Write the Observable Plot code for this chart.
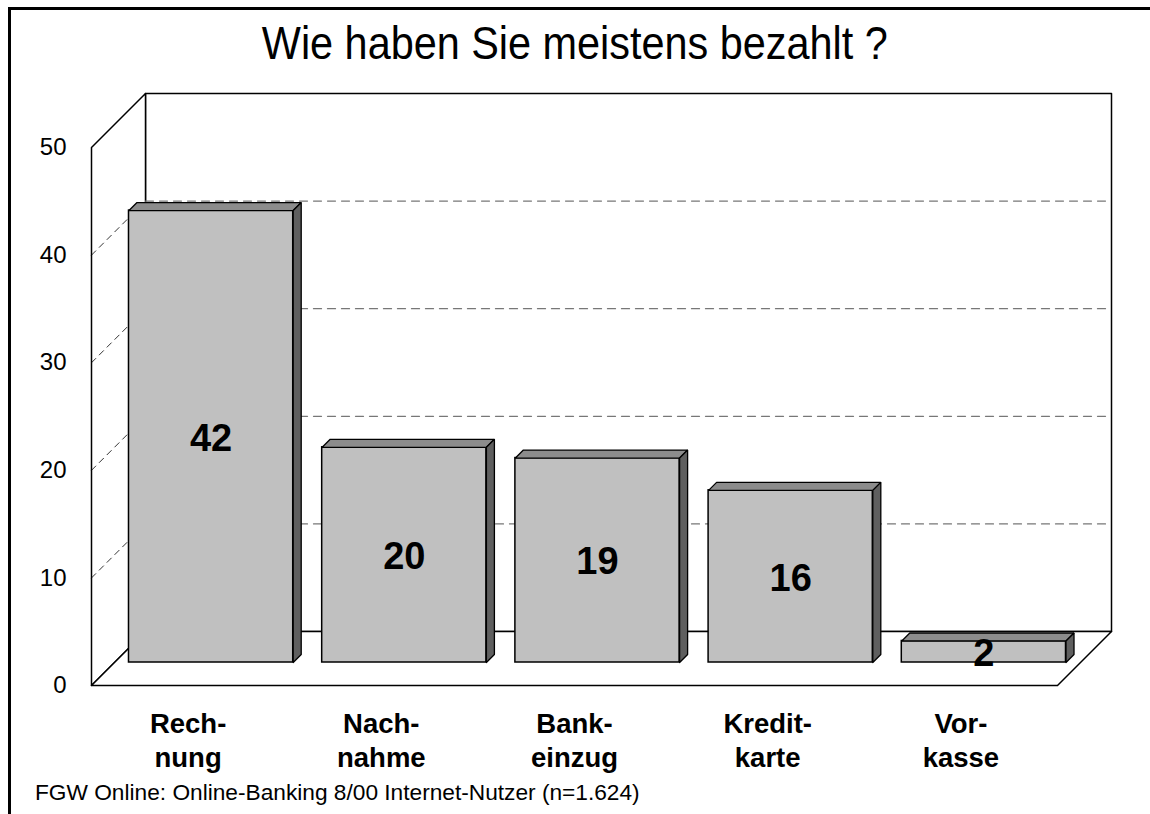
<!DOCTYPE html>
<html>
<head>
<meta charset="utf-8">
<script src="https://cdn.jsdelivr.net/npm/d3@7"></script>
<script src="https://cdn.jsdelivr.net/npm/@observablehq/plot@0.6"></script>
<style>
  html, body { margin: 0; padding: 0; background: #fff; overflow: hidden; width: 1150px; height: 814px; }
  #wrap { position: relative; width: 1150px; height: 814px; overflow: hidden; background: #fff;
          font-family: "Liberation Sans", Arial, Helvetica, sans-serif; }
  #bt { position: absolute; left: 8px; top: 7px; width: 1142px; height: 2.5px; background: #000; }
  #bl { position: absolute; left: 8px; top: 7px; width: 2.5px; height: 807px; background: #000; }
  #chart { position: absolute; left: 0; top: 0; width: 1150px; height: 814px; overflow: hidden; }
  #title { position: absolute; left: 0; top: 20px; width: 1150px; text-align: center;
           font-size: 46px; line-height: 46px; color: #000; transform: scaleX(0.9); transform-origin: 573px 0; }
  #footer { position: absolute; left: 35px; top: 781px; font-size: 22.7px; line-height: 22px; color: #000; white-space: nowrap; }
</style>
</head>
<body>
<div id="wrap">
  <div id="bt"></div>
  <div id="bl"></div>
  <div id="chart"></div>
  <div id="title">Wie haben Sie meistens bezahlt ?</div>
  <div id="footer">FGW Online: Online-Banking 8/00 Internet-Nutzer (n=1.624)</div>
</div>
<script>
// ---- data ----
const categories = ["Rech-\nnung", "Nach-\nnahme", "Bank-\neinzug", "Kredit-\nkarte", "Vor-\nkasse"];
const values = [42, 20, 19, 16, 2];
const yTicks = [0, 10, 20, 30, 40, 50];
const gridValues = [10, 20, 30, 40];

// ---- layout ----
const W = 1150, H = 814;
const mL = 91, mR = 93, mT = 147, mB = 129;
const yMax = 50, n = categories.length;
const UX = (W - mL - mR) / n;      // px per x unit
const UY = (H - mT - mB) / yMax;   // px per y unit
const WALL = 54;                    // wall depth (px, 45° oblique)
const BAR_FRONT = 23, BAR_BACK = 31; // bar depth range (px)
const BAR_PAD = 0.075;

// oblique projection: depth d (px) shifts right and up
const P = (x, y, d, id) => ({x: x + d / UX, y: y + d / UY, id});
const poly = (pts, id) => { const a = pts.map(p => ({...p, id})); a.push({...a[0]}); return a; };

const bars = values.map((v, i) => ({i, v, label: categories[i], x1: i + BAR_PAD, x2: i + 1 - BAR_PAD, xc: i + 0.5}));

const backWall = poly([P(0, 0, WALL), P(n, 0, WALL), P(n, yMax, WALL), P(0, yMax, WALL)], "back");
const leftWall = poly([P(0, 0, 0), P(0, 0, WALL), P(0, yMax, WALL), P(0, yMax, 0)], "left");
const floor = poly([P(0, 0, 0), P(n, 0, 0), P(n, 0, WALL), P(0, 0, WALL)], "floor");

const backGrid = gridValues.flatMap(g => [P(0, g, WALL, "g" + g), P(n, g, WALL, "g" + g)]);
const sideGrid = gridValues.flatMap(g => [P(0, g, 0, "s" + g), P(0, g, WALL, "s" + g)]);

const topFaces = bars.flatMap(b => poly([P(b.x1, b.v, BAR_FRONT), P(b.x2, b.v, BAR_FRONT), P(b.x2, b.v, BAR_BACK), P(b.x1, b.v, BAR_BACK)], "t" + b.i));
const sideFaces = bars.flatMap(b => poly([P(b.x2, 0, BAR_FRONT), P(b.x2, 0, BAR_BACK), P(b.x2, b.v, BAR_BACK), P(b.x2, b.v, BAR_FRONT)], "s" + b.i));

const font = '"Liberation Sans", Arial, Helvetica, sans-serif';

const chart = Plot.plot({
  width: W, height: H,
  marginLeft: mL, marginRight: mR, marginTop: mT, marginBottom: mB,
  x: {domain: [0, n], axis: null},
  y: {domain: [0, yMax], axis: null},
  style: {fontFamily: font, background: "transparent", overflow: "visible"},
  marks: [
    Plot.line(backWall, {x: "x", y: "y", z: "id", fill: "white", stroke: "black", strokeWidth: 1.5}),
    Plot.line(leftWall, {x: "x", y: "y", z: "id", fill: "white", stroke: "black", strokeWidth: 1.5}),
    Plot.line(floor, {x: "x", y: "y", z: "id", fill: "white", stroke: "black", strokeWidth: 1.5}),
    Plot.line(backGrid, {x: "x", y: "y", z: "id", stroke: "#777", strokeWidth: 1.3, strokeDasharray: "8,6"}),
    Plot.line(sideGrid, {x: "x", y: "y", z: "id", stroke: "black", strokeWidth: 0.8, strokeDasharray: "6,5"}),
    Plot.rectY(bars, {x1: "x1", x2: "x2", y: "v", dx: BAR_FRONT, dy: -BAR_FRONT, fill: "#c0c0c0", stroke: "black", strokeWidth: 1.5}),
    Plot.line(topFaces, {x: "x", y: "y", z: "id", fill: "#8c8c8c", stroke: "black", strokeWidth: 1.3, strokeLinejoin: "miter"}),
    Plot.line(sideFaces, {x: "x", y: "y", z: "id", fill: "#5f5f5f", stroke: "black", strokeWidth: 1.3, strokeLinejoin: "miter"}),
    Plot.text(bars, {x: "xc", y: d => d.v / 2, text: d => String(d.v), dx: BAR_FRONT, dy: -BAR_FRONT + 2,
      fontSize: 38, fontWeight: "bold", fill: "black"}),
    Plot.axisY({ticks: yTicks, tickSize: 0, tickPadding: 25, fontSize: 24, tickFormat: d => String(d)}),
    Plot.text(bars, {x: "xc", text: "label", frameAnchor: "bottom", lineAnchor: "top", dy: 23,
      lineHeight: 1.25, fontSize: 27.5, fontWeight: "bold", fill: "black"})
  ]
});
document.getElementById("chart").appendChild(chart);
</script>
</body>
</html>
